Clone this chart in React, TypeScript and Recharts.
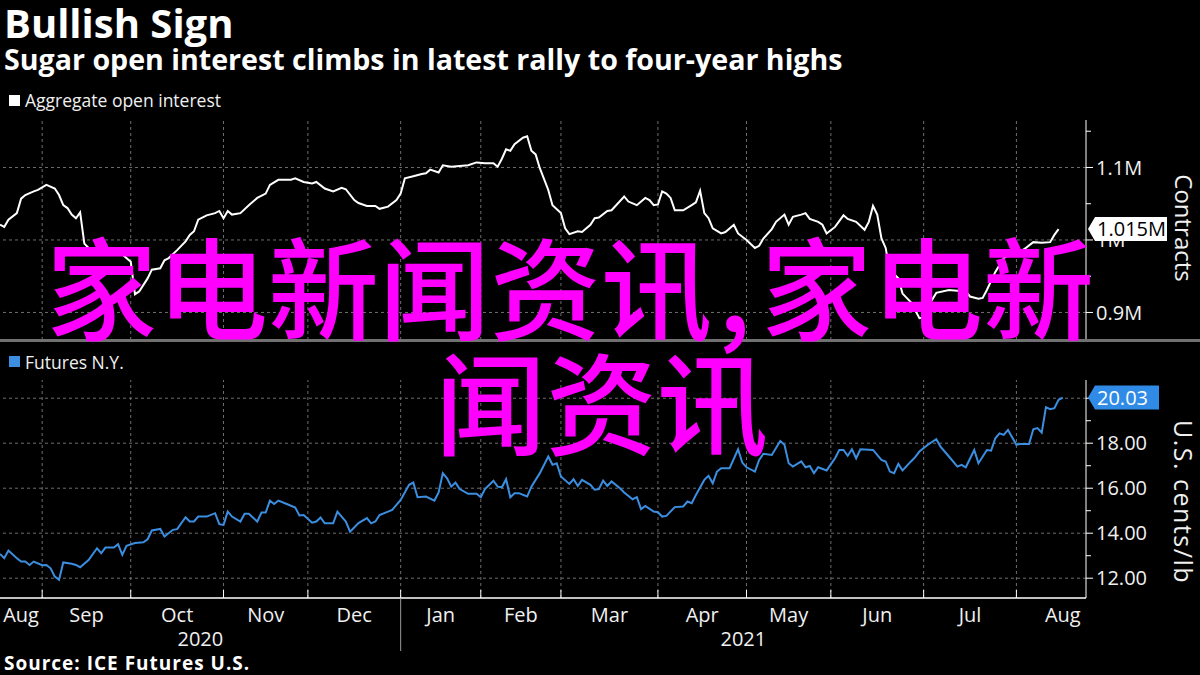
import React from 'react';
import { LineChart, Line, XAxis, YAxis, ReferenceLine } from 'recharts';

// Trading-day index from the left edge of the chart (mid Aug 2020)
const oiDays = [0, 1, 2, 4, 5, 6, 8, 9, 11, 13, 14, 15, 16, 17, 18, 19, 20, 21, 23, 25, 26, 28, 31, 32, 33, 35, 36, 38, 39, 40, 42, 44, 45, 46, 47, 49, 51, 52, 53, 54, 55, 57, 59, 61, 63, 64, 66, 69, 70, 72, 74, 75, 77, 79, 81, 82, 84, 85, 87, 89, 90, 92, 94, 95, 96, 98, 100, 101, 102, 104, 105, 107, 109, 111, 113, 115, 117, 118, 119, 120, 121, 122, 124, 125, 126, 127, 128, 130, 131, 133, 134, 135, 137, 138, 140, 141, 142, 144, 145, 148, 149, 151, 153, 154, 155, 156, 157, 158, 159, 160, 162, 164, 165, 166, 167, 168, 169, 171, 172, 174, 175, 177, 179, 180, 181, 183, 184, 186, 187, 188, 190, 191, 192, 194, 195, 196, 198, 200, 201, 203, 205, 206, 207, 208, 209, 210, 211, 212, 213, 214, 216, 218, 219, 220, 222, 225, 227, 229, 230, 232, 233, 234, 236, 238, 240, 242, 243, 245, 247, 249, 250, 251];
// Aggregate open interest, thousands of contracts
const oiValues = [1021, 1018, 1028, 1037, 1057, 1062, 1067, 1069, 1076, 1071, 1062, 1048, 1044, 1035, 1030, 1038, 995, 989, 984, 986, 986, 985, 970, 925, 929, 947, 959, 961, 972, 975, 986, 998, 1007, 1012, 1028, 1034, 1037, 1040, 1030, 1040, 1035, 1037, 1048, 1058, 1064, 1076, 1083, 1083, 1085, 1080, 1078, 1080, 1071, 1067, 1072, 1070, 1055, 1051, 1047, 1047, 1043, 1046, 1055, 1064, 1085, 1088, 1091, 1092, 1097, 1093, 1103, 1101, 1102, 1103, 1107, 1106, 1106, 1101, 1112, 1125, 1123, 1132, 1141, 1143, 1123, 1118, 1099, 1069, 1048, 1037, 1016, 1008, 1012, 1011, 1021, 1030, 1031, 1040, 1041, 1060, 1053, 1048, 1058, 1055, 1048, 1049, 1067, 1064, 1058, 1041, 1041, 1048, 1052, 1068, 1037, 1030, 1016, 1009, 1011, 1021, 1009, 1000, 989, 992, 1002, 1015, 1025, 1035, 1021, 1032, 1035, 1037, 1029, 1025, 1021, 1009, 1018, 1034, 1029, 1025, 1014, 1025, 1047, 1035, 1002, 989, 956, 953, 947, 926, 914, 892, 893, 908, 927, 931, 930, 929, 922, 919, 920, 931, 956, 975, 983, 984, 988, 997, 996, 997, 1007, 1015];

const pxDays = [0, 1, 2, 4, 5, 6, 7, 8, 10, 11, 12, 13, 14, 15, 17, 18, 19, 21, 23, 24, 25, 27, 28, 29, 30, 32, 34, 35, 36, 38, 39, 41, 42, 44, 45, 46, 47, 49, 51, 52, 53, 54, 55, 57, 58, 59, 61, 62, 63, 64, 65, 66, 68, 70, 71, 72, 74, 75, 76, 77, 79, 80, 82, 83, 85, 87, 88, 89, 90, 92, 93, 95, 97, 98, 99, 101, 103, 104, 105, 106, 107, 108, 109, 111, 113, 114, 115, 117, 118, 119, 120, 121, 122, 123, 125, 126, 128, 130, 131, 132, 133, 135, 136, 137, 138, 140, 141, 142, 143, 144, 145, 147, 148, 150, 151, 152, 153, 155, 156, 157, 158, 160, 162, 163, 164, 165, 167, 168, 169, 170, 171, 173, 175, 176, 177, 179, 180, 181, 183, 185, 186, 187, 188, 190, 191, 192, 193, 194, 196, 198, 199, 200, 201, 202, 203, 204, 207, 209, 210, 211, 212, 213, 214, 216, 217, 218, 220, 222, 223, 225, 227, 228, 229, 231, 232, 234, 235, 236, 237, 238, 239, 241, 242, 244, 245, 246, 247, 248, 249, 250, 251, 252];
// Sugar futures N.Y., U.S. cents per lb
const pxValues = [13.08, 12.89, 13.23, 12.89, 12.74, 12.74, 12.59, 12.74, 12.58, 12.59, 12.44, 12.07, 11.93, 12.7, 12.64, 12.59, 12.49, 12.81, 13.33, 13.11, 13.36, 13.36, 13.51, 13.04, 13.44, 13.56, 13.6, 13.73, 14.12, 14.19, 13.85, 14.15, 14.18, 14.71, 14.52, 14.52, 14.74, 14.74, 14.89, 14.4, 14.37, 14.96, 14.74, 14.52, 14.86, 14.86, 14.52, 14.92, 14.92, 15.45, 15.3, 15.45, 15.3, 15.14, 14.79, 14.81, 14.47, 14.52, 14.7, 14.44, 14.44, 14.96, 14.52, 14.07, 14.45, 14.67, 14.44, 14.52, 14.81, 14.96, 15.04, 15.48, 16.15, 16.25, 15.6, 15.63, 15.45, 15.81, 16.67, 16.44, 16.07, 16.25, 15.96, 15.75, 15.75, 15.6, 15.96, 16.33, 16.07, 16.04, 16.4, 15.6, 15.78, 15.78, 15.63, 16.07, 16.67, 17.41, 17.04, 17.11, 16.52, 16.19, 16.4, 16.1, 16.37, 16.15, 15.93, 15.96, 16.34, 16.1, 16.3, 16.0, 15.81, 15.51, 15.6, 15.07, 15.21, 14.96, 14.93, 14.74, 14.77, 15.16, 15.19, 15.41, 15.33, 15.7, 16.37, 16.55, 16.22, 16.74, 16.89, 16.89, 17.73, 17.14, 16.93, 16.74, 17.26, 17.53, 17.48, 18.1, 17.93, 17.11, 16.96, 17.19, 16.93, 16.99, 16.67, 16.93, 16.79, 17.33, 17.7, 17.7, 17.44, 17.73, 17.33, 17.73, 17.7, 17.26, 17.19, 16.74, 16.67, 17.08, 16.79, 17.19, 17.38, 17.63, 17.93, 18.18, 17.85, 17.41, 16.96, 17.04, 16.93, 17.7, 17.11, 17.7, 17.67, 18.22, 18.44, 18.37, 18.59, 17.93, 17.97, 17.97, 18.62, 18.67, 18.47, 19.6, 19.51, 19.56, 19.93, 20.03];

const monthStarts = [10, 31, 53, 73, 95, 114, 133, 156, 177, 197, 219, 241];
const yearStart = 95;
const monthLabelDays = [5, 20.5, 42, 63, 84, 104.5, 123.5, 144.5, 166.5, 187, 208, 230, 252];
const monthLabels = ['Aug', 'Sep', 'Oct', 'Nov', 'Dec', 'Jan', 'Feb', 'Mar', 'Apr', 'May', 'Jun', 'Jul', 'Aug'];
const yearLabelDays = [47.5, 176.25];
const yearLabels = ['2020', '2021'];

const oiMajorTicks = [900, 1000, 1100];
const oiMinorTicks = [950, 1050, 1150];
const pxMajorTicks = [12, 14, 16, 18, 20];
const pxMinorTicks = [13, 15, 17, 19];

const DAY_DOMAIN: [number, number] = [0, 257.5];
const OI_DOMAIN: [number, number] = [862, 1165.5];
const PX_DOMAIN: [number, number] = [11.12, 20.81];

const BLUE = '#3b8ee0';
const GRID = '#6e6e6e';
const AXIS_FONT = "'Open Sans', 'DejaVu Sans', sans-serif";

const oiData = oiDays.map((d, i) => ({ day: d, oi: oiValues[i] }));
const pxData = pxDays.map((d, i) => ({ day: d, px: pxValues[i] }));
const oiLast = oiValues[oiValues.length - 1];
const pxLast = pxValues[pxValues.length - 1];

function makeYTick(
  majors: number[],
  last: number,
  fmt: (v: number) => string,
  badgeFill: string,
  badgeText: string,
  badgeW: number
) {
  return (props: any) => {
    const { x, y, payload } = props;
    const v = payload.value;
    if (v === last && !majors.includes(v)) {
      return (
        <g>
          <polygon
            points={`${x + 2},${y} ${x + 9},${y - 12} ${x + 9 + badgeW},${y - 12} ${x + 9 + badgeW},${y + 12} ${x + 9},${y + 12}`}
            fill={badgeFill}
          />
          <text x={x + 11} y={y} dy="0.36em" fill={badgeText} fontSize={20} fontFamily={AXIS_FONT}>
            {fmt(v)}
          </text>
        </g>
      );
    }
    const major = majors.includes(v);
    return (
      <g>
        <line x1={x} x2={x + (major ? 7 : 5)} y1={y} y2={y} stroke="#fff" strokeWidth={1} />
        {major && (
          <text x={x + 10} y={y} dy="0.36em" fill="#f0f0f0" fontSize={20} fontFamily={AXIS_FONT}>
            {fmt(v)}
          </text>
        )}
      </g>
    );
  };
}

const OiTick = makeYTick(oiMajorTicks, oiLast, (v) => `${v / 1000}M`, '#ffffff', '#000000', 72);
const PxTick = makeYTick(pxMajorTicks, pxLast, (v) => v.toFixed(2), '#2f8be6', '#ffffff', 64);

function axisTitle(text: string, shift: number, size: number, spacing: number) {
  return (props: any) => {
    const vb = props.viewBox || {};
    const cx = vb.x + 98;
    const cy = vb.y + vb.height / 2 + shift;
    return (
      <text
        x={cx}
        y={cy}
        transform={`rotate(90 ${cx} ${cy})`}
        textAnchor="middle"
        dominantBaseline="central"
        fill="#f0f0f0"
        fontSize={size}
        letterSpacing={spacing}
        fontFamily={AXIS_FONT}
      >
        {text}
      </text>
    );
  };
}

function XTick(props: any) {
  const { x, y, payload } = props;
  const v = payload.value;
  const mi = monthLabelDays.indexOf(v);
  if (mi >= 0) {
    return (
      <text x={x} y={y + 16} textAnchor="middle" dominantBaseline="central" fill="#f0f0f0" fontSize={20} fontFamily={AXIS_FONT}>
        {monthLabels[mi]}
      </text>
    );
  }
  const yi = yearLabelDays.indexOf(v);
  if (yi >= 0) {
    return (
      <text x={x} y={y + 40} textAnchor="middle" dominantBaseline="central" fill="#f0f0f0" fontSize={20} fontFamily={AXIS_FONT}>
        {yearLabels[yi]}
      </text>
    );
  }
  return (
    <g>
      <line x1={x} x2={x} y1={y - 8} y2={y} stroke="#fff" />
      {v === yearStart && <line x1={x} x2={x} y1={y} y2={y + 53} stroke="#9a9a9a" />}
    </g>
  );
}

const xTicks = [...monthStarts, ...monthLabelDays, ...yearLabelDays];

const cjkStyle: React.CSSProperties = {
  position: 'absolute',
  fontSize: 111,
  lineHeight: '111px',
  color: '#ff00ff',
  fontWeight: 500,
  whiteSpace: 'nowrap',
  fontFamily: "'Noto Sans CJK SC', sans-serif",
};

export default function App() {
  return (
    <div
      style={{
        position: 'relative',
        width: 1200,
        height: 675,
        background: '#000',
        overflow: 'hidden',
        color: '#fff',
        fontFamily: AXIS_FONT,
      }}
    >
      <style>{'body{margin:0;background:#000;}'}</style>

      <div style={{ position: 'absolute', left: 4, top: 0, fontSize: 40, lineHeight: '46px', fontWeight: 700, fontFamily: "'Open Sans', sans-serif" }}>
        Bullish Sign
      </div>
      <div style={{ position: 'absolute', left: 4, top: 45, fontSize: 28.6, lineHeight: '28px', fontWeight: 700, fontFamily: "'Open Sans', sans-serif" }}>
        Sugar open interest climbs in latest rally to four-year highs
      </div>

      <div style={{ position: 'absolute', left: 9, top: 95, width: 11, height: 11, background: '#fff' }} />
      <div style={{ position: 'absolute', left: 25, top: 90, fontSize: 17.5, lineHeight: '20px', color: '#f0f0f0' }}>
        Aggregate open interest
      </div>

      <div style={{ position: 'absolute', left: 0, top: 120 }}>
        <LineChart width={1200} height={220} data={oiData} margin={{ top: 0, right: 0, left: 0, bottom: 0 }}>
          <XAxis type="number" dataKey="day" domain={DAY_DOMAIN} allowDataOverflow hide />
          <YAxis
            orientation="right"
            width={114}
            domain={OI_DOMAIN}
            allowDataOverflow
            ticks={[...oiMinorTicks, ...oiMajorTicks, oiLast]}
            interval={0}
            tickSize={0}
            tickMargin={0}
            tickLine={false}
            tick={OiTick}
            axisLine={{ stroke: '#fff' }}
            label={{ content: axisTitle('Contracts', -2, 24, 0) }}
          />
          {monthStarts.map((d) => (
            <ReferenceLine key={`mx${d}`} x={d} stroke={GRID} strokeDasharray="3 3" />
          ))}
          {oiMajorTicks.map((v) => (
            <ReferenceLine key={`my${v}`} y={v} stroke={GRID} strokeDasharray="3 3" />
          ))}
          <Line type="linear" dataKey="oi" stroke="#ffffff" strokeWidth={2} dot={false} isAnimationActive={false} />
        </LineChart>
      </div>

      <div style={{ position: 'absolute', left: 0, top: 339, width: 1200, height: 3, background: '#707070' }} />

      <div style={{ position: 'absolute', left: 9, top: 356, width: 11, height: 11, background: BLUE }} />
      <div style={{ position: 'absolute', left: 25, top: 352, fontSize: 17.5, lineHeight: '20px', color: '#f0f0f0' }}>
        Futures N.Y.
      </div>

      <div style={{ position: 'absolute', left: 0, top: 380 }}>
        <LineChart width={1200} height={272} data={pxData} margin={{ top: 0, right: 0, left: 0, bottom: 0 }}>
          <XAxis
            type="number"
            dataKey="day"
            domain={DAY_DOMAIN}
            allowDataOverflow
            ticks={xTicks}
            interval={0}
            tickSize={0}
            tickMargin={0}
            tickLine={false}
            tick={XTick}
            axisLine={{ stroke: '#fff', strokeWidth: 1.5 }}
            height={54}
          />
          <YAxis
            orientation="right"
            width={114}
            domain={PX_DOMAIN}
            allowDataOverflow
            ticks={[...pxMinorTicks, ...pxMajorTicks, pxLast]}
            interval={0}
            tickSize={0}
            tickMargin={0}
            tickLine={false}
            tick={PxTick}
            axisLine={{ stroke: '#fff' }}
            label={{ content: axisTitle('U.S. cents/lb', 13, 25, 1.5) }}
          />
          {monthStarts.map((d) => (
            <ReferenceLine key={`px${d}`} x={d} stroke={GRID} strokeDasharray="3 3" />
          ))}
          {pxMajorTicks.map((v) => (
            <ReferenceLine key={`py${v}`} y={v} stroke={GRID} strokeDasharray="3 3" />
          ))}
          <Line type="linear" dataKey="px" stroke={BLUE} strokeWidth={2} dot={false} isAnimationActive={false} />
        </LineChart>
      </div>

      <div style={{ position: 'absolute', left: 4, top: 654, fontSize: 19, lineHeight: '19px', fontWeight: 700, letterSpacing: 1, fontFamily: "'Open Sans', sans-serif" }}>
        Source: ICE Futures U.S.
      </div>

      <div style={{ ...cjkStyle, left: 46, top: 228 }}>
        家电新闻资讯<span style={{ marginLeft: 6, marginRight: 10 }}>,</span>家电新
      </div>
      <div style={{ ...cjkStyle, left: 435, top: 343 }}>闻资讯</div>
    </div>
  );
}
